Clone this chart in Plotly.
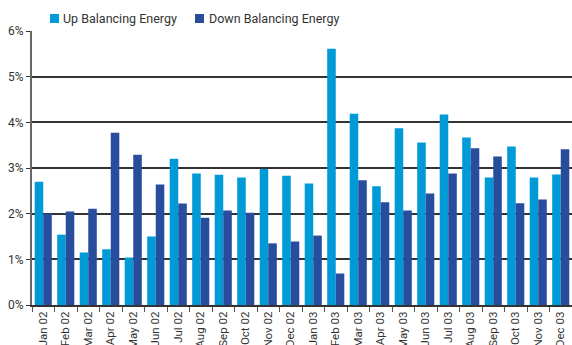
import plotly.graph_objects as go

months = ["Jan 02", "Feb 02", "Mar 02", "Apr 02", "May 02", "Jun 02", "Jul 02", "Aug 02",
          "Sep 02", "Oct 02", "Nov 02", "Dec 02", "Jan 03", "Feb 03", "Mar 03", "Apr 03",
          "May 03", "Jun 03", "Jul 03", "Aug 03", "Sep 03", "Oct 03", "Nov 03", "Dec 03"]

up_balancing = [2.70, 1.54, 1.15, 1.22, 1.04, 1.50, 3.20, 2.88,
                2.85, 2.79, 2.98, 2.83, 2.66, 5.61, 4.19, 2.60,
                3.87, 3.56, 4.17, 3.67, 2.79, 3.47, 2.79, 2.86]

down_balancing = [2.00, 2.05, 2.11, 3.77, 3.29, 2.64, 2.22, 1.91,
                  2.07, 2.02, 1.35, 1.39, 1.52, 0.69, 2.73, 2.25,
                  2.07, 2.44, 2.88, 3.43, 3.25, 2.23, 2.31, 3.41]

y_ticks = [0, 1, 2, 3, 4, 5, 6]
y_labels = ["0%", "1%", "2%", "3%", "4%", "5%", "6%"]

series_names = ["Up Balancing Energy", "Down Balancing Energy"]
series_colors = ["#009bd7", "#294d9d"]

FONT = "Roboto, Liberation Sans, sans-serif"
W, H = 572, 345
ML, MR, MT, MB = 32, 0, 31, 40
PW, PH = W - ML - MR, H - MT - MB

fig = go.Figure()
for name, vals, col in zip(series_names, [up_balancing, down_balancing], series_colors):
    fig.add_trace(go.Bar(x=months, y=vals, name=name,
                         marker=dict(color=col, line=dict(width=0))))

# legend drawn as swatch + text (positions in pixels converted to paper coords)
def px_x(px):
    return (px - ML) / PW

def px_y(py):
    return (H - MB - py) / PH

legend_items = [(50, 61), (195, 207)]  # (swatch left px, text left px)
for (sx, tx), name, col in zip(legend_items, series_names, series_colors):
    fig.add_shape(type="rect", xref="paper", yref="paper",
                  x0=px_x(sx), x1=px_x(sx + 9), y0=px_y(23), y1=px_y(14),
                  fillcolor=col, line=dict(width=0))
    fig.add_annotation(xref="paper", yref="paper", x=px_x(tx), y=px_y(18.5),
                       xanchor="left", yanchor="middle", showarrow=False,
                       text=name, font=dict(family=FONT, size=12.5, color="#333333"))

fig.update_layout(
    width=W, height=H,
    margin=dict(l=ML, r=MR, t=MT, b=MB),
    paper_bgcolor="white", plot_bgcolor="white",
    barmode="group", bargap=0.24, bargroupgap=0,
    font=dict(family=FONT, size=12, color="#333333"),
    showlegend=False,
    xaxis=dict(type="category", tickangle=-90, tickson="boundaries",
               ticks="outside", ticklen=5, tickcolor="#555555", tickwidth=1,
               showline=True, linecolor="#333333", linewidth=2,
               showgrid=False, automargin=False,
               tickfont=dict(family=FONT, size=11.5, color="#333333")),
    yaxis=dict(range=[0, 6], tickvals=y_ticks, ticktext=y_labels,
               showgrid=True, gridcolor="#333333", gridwidth=1.5,
               showline=True, linecolor="#666666", linewidth=2,
               ticks="outside", ticklen=4, tickcolor="#333333",
               zeroline=False, automargin=False,
               tickfont=dict(family=FONT, size=12, color="#333333")),
)

fig.write_html("out.html")
